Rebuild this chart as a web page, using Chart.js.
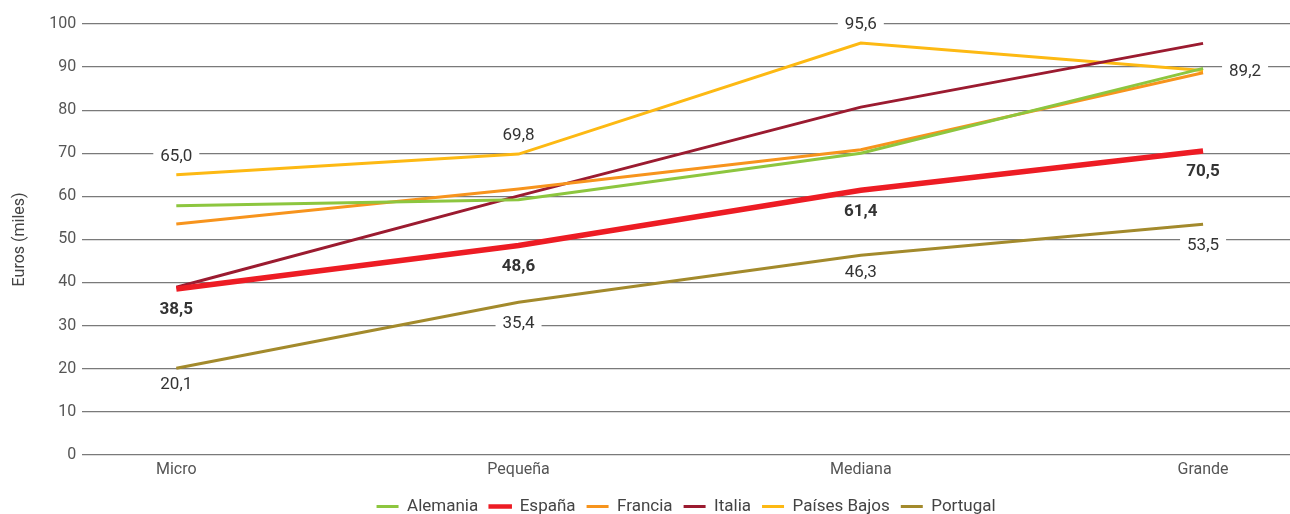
<!DOCTYPE html>
<html>
<head>
<meta charset="utf-8">
<script src="https://cdn.jsdelivr.net/npm/chart.js@4/dist/chart.umd.min.js"></script>
<style>
  html, body { margin: 0; padding: 0; background: #fff; }
  #wrap { width: 1290px; height: 514px; position: relative; }
</style>
</head>
<body>
<div id="wrap"><canvas id="c"></canvas></div>
<script>
// ---- Data ----
const categories = ['Micro', 'Pequeña', 'Mediana', 'Grande'];
const alemania   = [57.8, 59.2, 70.0, 89.7];
const espana     = [38.5, 48.6, 61.4, 70.5];
const francia    = [53.6, 61.7, 70.8, 88.7];
const italia     = [38.9, 60.1, 80.7, 95.5];
const paisesBajos = [65.0, 69.8, 95.6, 89.2];
const portugal   = [20.1, 35.4, 46.3, 53.5];
const yTicks = [0, 10, 20, 30, 40, 50, 60, 70, 80, 90, 100];

// ---- Styles ----
const FONT = 'Roboto, "DejaVu Sans", sans-serif';
const series = [
  { label: 'Alemania',     data: alemania,    color: '#8DC63F', width: 3 },
  { label: 'España',       data: espana,      color: '#ED1C24', width: 5.5 },
  { label: 'Francia',      data: francia,     color: '#F7941D', width: 3 },
  { label: 'Italia',       data: italia,      color: '#9B1B30', width: 3 },
  { label: 'Países Bajos', data: paisesBajos, color: '#FDB913', width: 3 },
  { label: 'Portugal',     data: portugal,    color: '#A38A2C', width: 3 }
];
// which series get value labels and where they sit (placement, distance in px)
const labelPlacement = {
  'Países Bajos': { pos: ['above', 'above', 'above', 'right'], dist: [19, 19, 19, 42], bold: false },
  'España':       { pos: ['below', 'below', 'below', 'below'], dist: [20, 20, 20, 20], bold: true },
  'Portugal':     { pos: ['below', 'below', 'below', 'below'], dist: [16, 20, 16, 20], bold: false }
};

const datasets = series.map(s => ({
  label: s.label,
  data: s.data.map((v, i) => ({ x: i, y: v })),
  borderColor: s.color,
  backgroundColor: s.color,
  borderWidth: s.width,
  pointRadius: 0,
  pointHoverRadius: 0,
  tension: 0,
  fill: false
}));

const valueLabels = {
  id: 'valueLabels',
  afterDatasetsDraw(chart) {
    const ctx = chart.ctx;
    ctx.save();
    chart.data.datasets.forEach((ds, di) => {
      const cfg = labelPlacement[ds.label];
      if (!cfg) return;
      const meta = chart.getDatasetMeta(di);
      meta.data.forEach((pt, i) => {
        const txt = ds.data[i].y.toFixed(1).replace('.', ',');
        ctx.font = (cfg.bold ? 'bold ' : '') + '17px ' + FONT;
        const w = ctx.measureText(txt).width;
        let cx = pt.x, cy = pt.y;
        const p = cfg.pos[i], d = cfg.dist[i];
        if (p === 'above') cy -= d;
        else if (p === 'below') cy += d;
        else if (p === 'right') cx += d;
        ctx.fillStyle = '#ffffff';
        ctx.fillRect(cx - w / 2 - 7, cy - 9, w + 14, 18);
        ctx.fillStyle = '#333333';
        ctx.textAlign = 'center';
        ctx.textBaseline = 'middle';
        ctx.fillText(txt, cx, cy + 1);
      });
    });
    ctx.restore();
  }
};

new Chart(document.getElementById('c'), {
  type: 'line',
  data: { datasets },
  plugins: [valueLabels],
  options: {
    responsive: true,
    maintainAspectRatio: false,
    animation: false,
    layout: { padding: { top: 24, right: 0, left: 10, bottom: -11 } },
    plugins: {
      tooltip: { enabled: false },
      legend: {
        position: 'bottom',
        fullSize: false,
        labels: {
          font: { family: FONT, size: 17 },
          color: '#444',
          boxWidth: 22,
          boxHeight: 3,
          padding: 11,
          generateLabels(chart) {
            return chart.data.datasets.map((ds, i) => ({
              text: ds.label,
              fillStyle: ds.borderColor,
              strokeStyle: ds.borderColor,
              lineWidth: ds.borderWidth > 4 ? 1.5 : 0,
              hidden: false,
              datasetIndex: i,
              fontColor: '#444'
            }));
          }
        }
      }
    },
    scales: {
      x: {
        type: 'linear',
        min: -0.275,
        max: 3.254,
        afterBuildTicks(scale) { scale.ticks = categories.map((c, i) => ({ value: i })); },
        afterFit(scale) { scale.height += 9; },
        ticks: {
          callback: (v) => categories[v],
          font: { family: FONT, size: 16 },
          color: '#555',
          padding: -2,
          maxRotation: 0
        },
        grid: { display: false },
        border: { display: false }
      },
      y: {
        min: 0,
        max: 100,
        afterBuildTicks(scale) { scale.ticks = yTicks.map(v => ({ value: v })); },
        ticks: {
          font: { family: FONT, size: 16 },
          color: '#555',
          padding: 6
        },
        grid: { color: '#7a7a7a', lineWidth: 1.2, drawTicks: false },
        border: { display: false },
        title: {
          display: true,
          text: 'Euros (miles)',
          font: { family: FONT, size: 16 },
          color: '#444',
          padding: { top: 0, bottom: 14 }
        }
      }
    }
  }
});
</script>
</body>
</html>
